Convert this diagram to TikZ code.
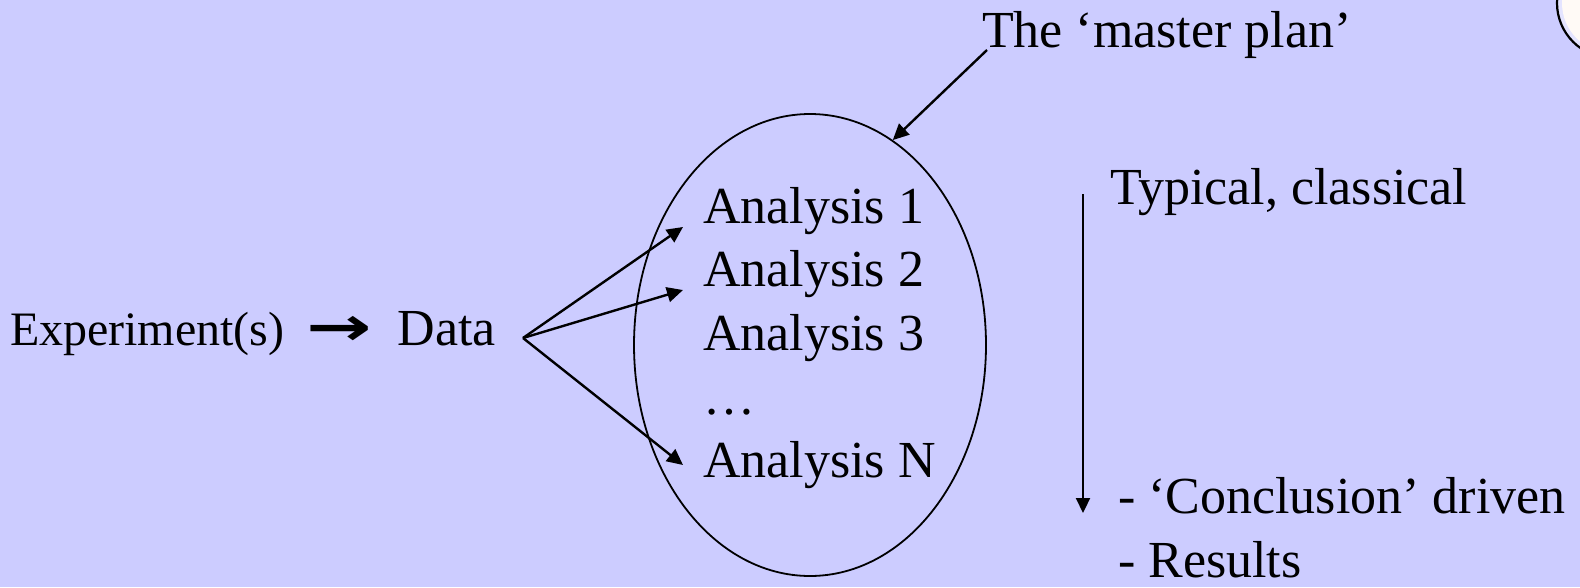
\documentclass[tikz,border=0pt]{standalone}
\usepackage{fontspec}
\setmainfont{Liberation Serif}
\newfontfamily\arrowfont{DejaVu Sans}
\usetikzlibrary{arrows.meta,shapes.geometric}
\definecolor{bg}{RGB}{204,204,255}
\definecolor{logostrip}{RGB}{228,228,255}
\definecolor{logofill}{RGB}{255,250,246}
\begin{document}
\begin{tikzpicture}[x=1pt,y=-1pt,
  txt/.style={inner sep=0pt, outer sep=0pt, anchor=base west, font=\fontsize{52}{62}\selectfont},
  smalltxt/.style={inner sep=0pt, outer sep=0pt, anchor=base west, font=\fontsize{48}{58}\selectfont},
  conn/.style={line width=2.4pt, -{Triangle[length=16pt,width=15pt]}},
]
\fill[bg] (0,0) rectangle (1580,587);
\useasboundingbox (0,0) rectangle (1580,587);

% partial logo, top right
\begin{scope}
\clip (0,0) rectangle (1580,587);
\fill[logostrip] (1612,3) circle (55);
\fill[logofill] (1612,3) circle (50);
\draw[line width=2.2pt, black] (1612,3) circle (55);
\end{scope}

% ellipse
\node[draw, ellipse, line width=1.8pt, minimum width=352pt, minimum height=462pt, inner sep=0pt] (ell) at (810,345) {};

% texts
\node[smalltxt] (exp) at (10,345) {Experiment(s)\hspace{22pt}\makebox[66pt][c]{\scalebox{1.45}[1]{\fontsize{54}{54}\arrowfont\bfseries →}}\hspace{25pt}{\fontsize{52}{58}\selectfont Data}};
\node[txt] (a1) at (703,223) {Analysis 1};
\node[txt] (a2) at (703,286) {Analysis 2};
\node[txt] (a3) at (703,350) {Analysis 3};
\node[txt] (dots) at (703,414) {…};
\node[txt] (aN) at (703,477) {Analysis N};
\node[txt] (mp) at (982,47) {The ‘master plan’};
\node[txt] (typ) at (1110,204) {Typical, classical};
\node[txt] (concl) at (1118,513) {- ‘Conclusion’ driven};
\node[txt] (res) at (1118,577) {- Results};

% connectors
\coordinate (fan) at (523,338);
\draw[conn] (fan) -- ([xshift=-20pt,yshift=-4pt]a1.base west);
\draw[conn] (fan) -- ([xshift=-20pt,yshift=-4pt]a2.base west);
\draw[conn] (fan) -- ([xshift=-20pt,yshift=12pt]aN.base west);
\draw[conn] ([xshift=5pt,yshift=-3pt]mp.base west) -- (ell.68);
\coordinate (vtop) at (1083,194);
\coordinate (vbot) at (1083,513);
\draw[line width=2.2pt, -{Triangle[length=15pt,width=14pt]}] (vtop) -- (vbot);
\end{tikzpicture}
\end{document}
